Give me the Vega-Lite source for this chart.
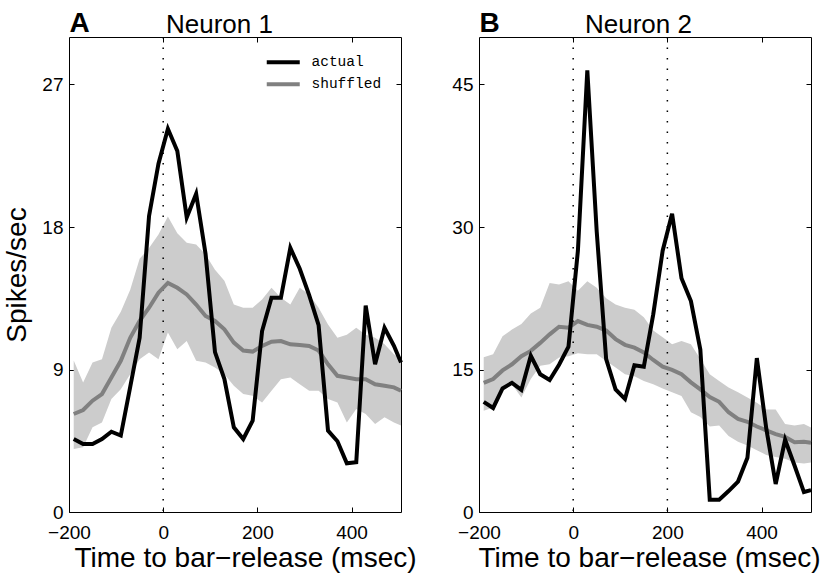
{
  "$schema": "https://vega.github.io/schema/vega-lite/v6.json",
  "background": "white",
  "padding": {"left": 3, "top": 9, "right": 2, "bottom": 2},
  "spacing": 34,
  "datasets": {
    "n1": [
      {"t": -190, "actual": 4.61, "mean": 6.19, "lo": 3.98, "hi": 9.57},
      {"t": -170, "actual": 4.30, "mean": 6.44, "lo": 4.09, "hi": 8.18},
      {"t": -150, "actual": 4.30, "mean": 7.03, "lo": 5.35, "hi": 9.44},
      {"t": -130, "actual": 4.61, "mean": 7.45, "lo": 5.66, "hi": 9.65},
      {"t": -110, "actual": 5.07, "mean": 8.5, "lo": 7.13, "hi": 11.64},
      {"t": -90, "actual": 4.83, "mean": 9.55, "lo": 7.76, "hi": 12.65},
      {"t": -70, "actual": 7.9, "mean": 11.0, "lo": 8.7, "hi": 14.03},
      {"t": -50, "actual": 11.0, "mean": 12.07, "lo": 9.65, "hi": 15.99},
      {"t": -30, "actual": 18.7, "mean": 12.9, "lo": 10.07, "hi": 16.68},
      {"t": -10, "actual": 22.0, "mean": 13.85, "lo": 9.65, "hi": 17.52},
      {"t": 10, "actual": 24.2, "mean": 14.47, "lo": 11.33, "hi": 18.67},
      {"t": 30, "actual": 22.8, "mean": 14.16, "lo": 10.28, "hi": 17.6},
      {"t": 50, "actual": 18.6, "mean": 13.74, "lo": 10.8, "hi": 17.0},
      {"t": 70, "actual": 20.1, "mean": 13.1, "lo": 9.55, "hi": 16.9},
      {"t": 90, "actual": 16.3, "mean": 12.38, "lo": 9.44, "hi": 16.26},
      {"t": 110, "actual": 10.1, "mean": 12.07, "lo": 9.13, "hi": 15.3},
      {"t": 130, "actual": 8.4, "mean": 11.54, "lo": 8.7, "hi": 14.6},
      {"t": 150, "actual": 5.35, "mean": 10.7, "lo": 7.97, "hi": 13.1},
      {"t": 170, "actual": 4.61, "mean": 10.2, "lo": 7.45, "hi": 12.9},
      {"t": 190, "actual": 5.77, "mean": 10.13, "lo": 7.34, "hi": 12.9},
      {"t": 210, "actual": 11.43, "mean": 10.49, "lo": 6.92, "hi": 13.42},
      {"t": 230, "actual": 13.53, "mean": 10.76, "lo": 7.66, "hi": 14.16},
      {"t": 250, "actual": 13.53, "mean": 10.8, "lo": 8.39, "hi": 13.53},
      {"t": 270, "actual": 16.68, "mean": 10.59, "lo": 8.5, "hi": 13.1},
      {"t": 290, "actual": 15.36, "mean": 10.55, "lo": 8.07, "hi": 14.16},
      {"t": 310, "actual": 13.7, "mean": 10.49, "lo": 7.66, "hi": 13.74},
      {"t": 330, "actual": 11.8, "mean": 10.2, "lo": 7.66, "hi": 12.9},
      {"t": 350, "actual": 5.14, "mean": 9.33, "lo": 7.13, "hi": 11.85},
      {"t": 370, "actual": 4.47, "mean": 8.6, "lo": 6.92, "hi": 11.0},
      {"t": 390, "actual": 3.08, "mean": 8.5, "lo": 5.66, "hi": 11.2},
      {"t": 410, "actual": 3.15, "mean": 8.39, "lo": 6.5, "hi": 11.64},
      {"t": 430, "actual": 13.04, "mean": 8.39, "lo": 6.19, "hi": 11.2},
      {"t": 450, "actual": 9.33, "mean": 8.07, "lo": 5.56, "hi": 11.0},
      {"t": 470, "actual": 11.64, "mean": 7.97, "lo": 5.98, "hi": 10.59},
      {"t": 490, "actual": 10.5, "mean": 7.87, "lo": 5.66, "hi": 9.96},
      {"t": 505, "actual": 9.44, "mean": 7.66, "lo": 5.46, "hi": 9.65}
    ],
    "n2": [
      {"t": -190, "actual": 11.6, "mean": 13.6, "lo": 10.67, "hi": 16.3},
      {"t": -170, "actual": 10.95, "mean": 14.0, "lo": 11.0, "hi": 16.6},
      {"t": -150, "actual": 13.0, "mean": 14.9, "lo": 13.1, "hi": 18.5},
      {"t": -130, "actual": 13.6, "mean": 15.55, "lo": 13.46, "hi": 19.2},
      {"t": -110, "actual": 12.85, "mean": 16.4, "lo": 12.06, "hi": 19.8},
      {"t": -90, "actual": 16.45, "mean": 16.96, "lo": 14.0, "hi": 20.9},
      {"t": -70, "actual": 14.5, "mean": 17.8, "lo": 15.4, "hi": 21.5},
      {"t": -50, "actual": 13.9, "mean": 18.7, "lo": 15.55, "hi": 24.1},
      {"t": -30, "actual": 15.5, "mean": 19.5, "lo": 16.26, "hi": 23.95},
      {"t": -10, "actual": 17.4, "mean": 19.4, "lo": 16.4, "hi": 24.3},
      {"t": 10, "actual": 27.5, "mean": 20.1, "lo": 16.7, "hi": 23.3},
      {"t": 30, "actual": 46.5, "mean": 19.7, "lo": 16.6, "hi": 24.3},
      {"t": 50, "actual": 29.5, "mean": 19.5, "lo": 16.6, "hi": 23.6},
      {"t": 70, "actual": 16.1, "mean": 19.1, "lo": 15.9, "hi": 22.5},
      {"t": 90, "actual": 12.9, "mean": 18.2, "lo": 15.2, "hi": 21.85},
      {"t": 110, "actual": 11.9, "mean": 17.6, "lo": 14.5, "hi": 21.5},
      {"t": 130, "actual": 15.45, "mean": 17.3, "lo": 14.3, "hi": 21.3},
      {"t": 150, "actual": 15.3, "mean": 16.8, "lo": 13.8, "hi": 20.5},
      {"t": 170, "actual": 20.8, "mean": 16.0, "lo": 13.46, "hi": 19.1},
      {"t": 190, "actual": 27.5, "mean": 15.3, "lo": 13.0, "hi": 18.4},
      {"t": 210, "actual": 31.4, "mean": 14.95, "lo": 12.6, "hi": 17.65},
      {"t": 230, "actual": 24.6, "mean": 14.5, "lo": 12.2, "hi": 18.0},
      {"t": 250, "actual": 22.2, "mean": 13.65, "lo": 10.5, "hi": 17.65},
      {"t": 270, "actual": 17.1, "mean": 12.9, "lo": 10.0, "hi": 16.1},
      {"t": 290, "actual": 1.3, "mean": 12.1, "lo": 9.0, "hi": 14.5},
      {"t": 310, "actual": 1.3, "mean": 11.6, "lo": 9.1, "hi": 13.8},
      {"t": 330, "actual": 2.2, "mean": 10.5, "lo": 8.0, "hi": 13.1},
      {"t": 350, "actual": 3.2, "mean": 9.8, "lo": 7.4, "hi": 12.6},
      {"t": 370, "actual": 5.7, "mean": 9.5, "lo": 7.0, "hi": 12.06},
      {"t": 390, "actual": 16.2, "mean": 9.0, "lo": 6.5, "hi": 11.5},
      {"t": 410, "actual": 8.8, "mean": 8.6, "lo": 6.0, "hi": 10.8},
      {"t": 430, "actual": 2.95, "mean": 8.2, "lo": 5.8, "hi": 10.8},
      {"t": 450, "actual": 7.6, "mean": 7.9, "lo": 5.6, "hi": 9.26},
      {"t": 470, "actual": 4.9, "mean": 7.35, "lo": 5.2, "hi": 9.1},
      {"t": 490, "actual": 2.1, "mean": 7.4, "lo": 5.1, "hi": 9.26},
      {"t": 505, "actual": 2.3, "mean": 7.3, "lo": 5.2, "hi": 8.9}
    ],
    "m1": [{"t": 0}],
    "m2": [{"t": 0}, {"t": 200}]
  },
  "config": {
    "font": "Liberation Sans",
    "view": {"stroke": "black", "strokeWidth": 1},
    "axis": {
      "domain": false,
      "grid": false,
      "tickColor": "black",
      "tickSize": -5,
      "tickWidth": 1,
      "labelColor": "black",
      "labelFont": "Liberation Sans",
      "labelFontSize": 19,
      "labelPadding": 11,
      "titleColor": "black",
      "titleFont": "Liberation Sans",
      "titleFontWeight": "normal",
      "titleFontSize": 28
    },
    "legend": {
      "orient": "none",
      "legendX": 207,
      "legendY": 18,
      "title": null,
      "symbolType": "M-3.3,0H3.3",
      "symbolStrokeWidth": 4,
      "symbolSize": 100,
      "labelFont": "Liberation Mono",
      "labelFontSize": 14.5,
      "labelColor": "black",
      "labelOffset": 21,
      "rowPadding": 5
    }
  },
  "hconcat": [
    {
      "width": 332,
      "height": 475,
      "layer": [
        {
          "data": {"name": "n1"},
          "mark": {"type": "area", "color": "#cccccc", "opacity": 1},
          "encoding": {
            "x": {"field": "t", "type": "quantitative",
                  "scale": {"domain": [-200, 505], "nice": false, "zero": false},
                  "axis": {"orient": "bottom", "values": [-200, 0, 200, 400], "labelFlush": false,
                           "labelPadding": 16,
                           "title": "Time to bar−release (msec)", "titlePadding": 2, "titleX": 176}},
            "y": {"field": "lo", "type": "quantitative",
                  "scale": {"domain": [0, 30], "nice": false, "zero": true},
                  "axis": {"orient": "left", "values": [0, 9, 18, 27], "title": "Spikes/sec", "titlePadding": 10}},
            "y2": {"field": "hi"}
          }
        },
        {
          "data": {"name": "m1"},
          "mark": {"type": "rule", "color": "black", "strokeDash": [1.5, 9], "strokeWidth": 1.5},
          "encoding": {
            "x": {"field": "t", "type": "quantitative",
                  "axis": {"orient": "top", "values": [0, 200, 400], "labels": false,
                           "title": "A", "titleAnchor": "start", "titleAlign": "left",
                           "titleFontWeight": "bold", "titleFontSize": 28,
                           "titleBaseline": "alphabetic", "titlePadding": 5}}
          }
        },
        {
          "data": {"name": "n1"},
          "mark": {"type": "line", "strokeWidth": 4},
          "encoding": {
            "x": {"field": "t", "type": "quantitative",
                  "axis": {"orient": "top", "labels": false, "ticks": false,
                           "title": "Neuron 1", "titleX": 150, "titleFontSize": 26,
                           "titleBaseline": "alphabetic", "titlePadding": 5}},
            "y": {"field": "mean", "type": "quantitative", "axis": null},
            "color": {"datum": "shuffled", "type": "nominal",
                      "scale": {"domain": ["actual", "shuffled"], "range": ["black", "#808080"]}}
          }
        },
        {
          "data": {"name": "n1"},
          "mark": {"type": "line", "strokeWidth": 4},
          "encoding": {
            "x": {"field": "t", "type": "quantitative", "axis": null},
            "y": {"field": "actual", "type": "quantitative",
                  "axis": {"orient": "right", "values": [9, 18, 27], "labels": false, "title": null}},
            "color": {"datum": "actual", "type": "nominal"}
          }
        }
      ],
      "resolve": {"axis": {"x": "independent", "y": "independent"}}
    },
    {
      "width": 332,
      "height": 475,
      "layer": [
        {
          "data": {"name": "n2"},
          "mark": {"type": "area", "color": "#cccccc", "opacity": 1},
          "encoding": {
            "x": {"field": "t", "type": "quantitative",
                  "scale": {"domain": [-200, 505], "nice": false, "zero": false},
                  "axis": {"orient": "bottom", "values": [-200, 0, 200, 400], "labelFlush": false,
                           "labelPadding": 16,
                           "title": "Time to bar−release (msec)", "titlePadding": 2, "titleX": 170}},
            "y": {"field": "lo", "type": "quantitative",
                  "scale": {"domain": [0, 50], "nice": false, "zero": true},
                  "axis": {"orient": "left", "values": [0, 15, 30, 45], "title": null}},
            "y2": {"field": "hi"}
          }
        },
        {
          "data": {"name": "m2"},
          "mark": {"type": "rule", "color": "black", "strokeDash": [1.5, 9], "strokeWidth": 1.5},
          "encoding": {
            "x": {"field": "t", "type": "quantitative",
                  "axis": {"orient": "top", "values": [0, 200, 400], "labels": false,
                           "title": "B", "titleAnchor": "start", "titleAlign": "left",
                           "titleFontWeight": "bold", "titleFontSize": 28,
                           "titleBaseline": "alphabetic", "titlePadding": 5}}
          }
        },
        {
          "data": {"name": "n2"},
          "mark": {"type": "line", "strokeWidth": 4, "color": "#808080"},
          "encoding": {
            "x": {"field": "t", "type": "quantitative",
                  "axis": {"orient": "top", "labels": false, "ticks": false,
                           "title": "Neuron 2", "titleX": 159, "titleFontSize": 26,
                           "titleBaseline": "alphabetic", "titlePadding": 5}},
            "y": {"field": "mean", "type": "quantitative", "axis": null}
          }
        },
        {
          "data": {"name": "n2"},
          "mark": {"type": "line", "strokeWidth": 4, "color": "black"},
          "encoding": {
            "x": {"field": "t", "type": "quantitative", "axis": null},
            "y": {"field": "actual", "type": "quantitative",
                  "axis": {"orient": "right", "values": [15, 30, 45], "labels": false, "title": null}}
          }
        }
      ],
      "resolve": {"axis": {"x": "independent", "y": "independent"}}
    }
  ]
}
